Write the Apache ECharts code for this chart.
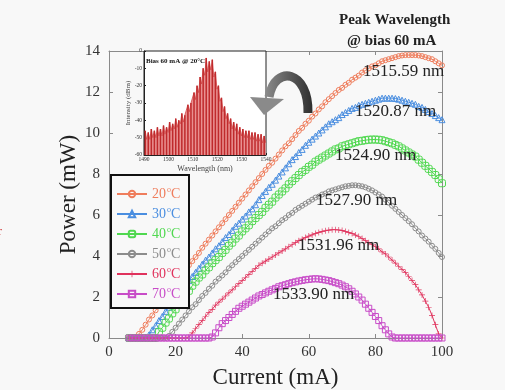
<!DOCTYPE html>
<html>
<head>
<meta charset="utf-8">
<script src="https://cdn.jsdelivr.net/npm/echarts@6/dist/echarts.min.js"></script>
<style>
  html, body { margin: 0; padding: 0; background: #f8f8f8; }
  #main { width: 505px; height: 390px; }
</style>
</head>
<body>
<div id="main"></div>
<script>
// current (mA)
const current = [6,7,8,9,10,11,12,13,14,15,16,17,18,19,20,21,22,23,24,25,26,27,28,29,30,
  31,32,33,34,35,36,37,38,39,40,41,42,43,44,45,46,47,48,49,50,51,52,53,54,55,56,57,58,59,60,
  61,62,63,64,65,66,67,68,69,70,71,72,73,74,75,76,77,78,79,80,81,82,83,84,85,86,87,88,89,90,
  91,92,93,94,95,96,97,98,99,100];

// output power (mW) per temperature
const p20 = [0,0,0.05,0.2,0.4,0.65,0.9,1.1,1.35,1.55,1.8,2.0,2.25,2.45,2.7,2.9,3.1,3.3,3.55,3.75,
  3.95,4.15,4.4,4.6,4.8,5.0,5.2,5.4,5.6,5.8,6.0,6.2,6.4,6.6,6.8,7.0,7.2,7.4,7.6,7.8,
  8.0,8.2,8.4,8.55,8.75,8.95,9.15,9.35,9.5,9.7,9.9,10.1,10.25,10.45,10.6,10.8,10.95,11.15,11.3,11.5,
  11.65,11.8,11.95,12.1,12.2,12.35,12.45,12.6,12.7,12.8,12.95,13.05,13.15,13.25,13.3,13.4,13.5,13.55,13.6,13.65,
  13.7,13.75,13.78,13.8,13.8,13.8,13.8,13.78,13.75,13.7,13.65,13.6,13.5,13.4,13.3];
const p30 = [0,0,0,0,0,0,0.15,0.4,0.6,0.85,1.05,1.3,1.5,1.75,1.95,2.2,2.4,2.6,2.8,3.0,
  3.2,3.4,3.6,3.8,3.95,4.15,4.35,4.5,4.7,4.9,5.05,5.25,5.45,5.6,5.8,5.95,6.15,6.3,6.5,6.75,
  6.95,7.15,7.35,7.5,7.7,7.9,8.1,8.3,8.5,8.7,8.85,9.05,9.2,9.4,9.55,9.7,9.85,10.0,10.15,10.3,
  10.45,10.55,10.65,10.75,10.9,11.0,11.1,11.2,11.25,11.35,11.4,11.45,11.5,11.55,11.6,11.65,11.7,11.7,11.7,11.7,
  11.68,11.65,11.6,11.55,11.5,11.45,11.4,11.3,11.25,11.15,11.05,10.95,10.85,10.75,10.65];
const p40 = [0,0,0,0,0,0,0,0,0,0.3,0.5,0.75,0.95,1.2,1.4,1.65,1.85,2.1,2.3,2.55,
  2.75,2.95,3.1,3.3,3.45,3.65,3.8,3.95,4.15,4.3,4.5,4.65,4.85,5.0,5.2,5.35,5.5,5.7,5.85,6.0,
  6.15,6.35,6.5,6.65,6.85,7.0,7.15,7.3,7.5,7.65,7.8,7.95,8.1,8.2,8.35,8.45,8.6,8.7,8.8,8.9,
  9.0,9.1,9.2,9.25,9.35,9.4,9.45,9.5,9.55,9.6,9.62,9.65,9.67,9.68,9.68,9.67,9.65,9.6,9.55,9.5,
  9.42,9.35,9.25,9.15,9.05,8.95,8.85,8.7,8.55,8.4,8.25,8.1,7.95,7.75,7.55];
const p50 = [0,0,0,0,0,0,0,0,0,0,0,0,0.1,0.3,0.5,0.7,0.9,1.1,1.3,1.5,
  1.65,1.85,2.05,2.2,2.4,2.55,2.75,2.9,3.05,3.2,3.4,3.55,3.7,3.85,4.0,4.15,4.3,4.45,4.6,4.75,
  4.9,5.05,5.2,5.35,5.45,5.6,5.75,5.85,6.0,6.1,6.25,6.35,6.45,6.55,6.65,6.75,6.85,6.9,7.0,7.05,
  7.15,7.2,7.25,7.3,7.35,7.4,7.42,7.45,7.45,7.43,7.4,7.35,7.28,7.2,7.1,7.0,6.9,6.75,6.6,6.45,
  6.3,6.15,6.0,5.85,5.7,5.55,5.35,5.2,5.0,4.85,4.7,4.5,4.35,4.15,3.95];
const p60 = [0,0,0,0,0,0,0,0,0,0,0,0,0,0,0,0,0,0,0.05,0.25,
  0.45,0.65,0.85,1.05,1.25,1.4,1.6,1.75,1.9,2.05,2.2,2.35,2.5,2.65,2.8,2.95,3.1,3.25,3.4,3.55,
  3.65,3.75,3.85,3.95,4.05,4.15,4.25,4.35,4.45,4.55,4.65,4.75,4.82,4.9,4.97,5.03,5.1,5.15,5.2,5.23,
  5.26,5.28,5.28,5.27,5.25,5.2,5.15,5.1,5.02,4.95,4.85,4.75,4.65,4.55,4.45,4.35,4.2,4.1,3.95,3.8,
  3.65,3.5,3.35,3.2,3.0,2.8,2.6,2.35,2.1,1.8,1.5,1.1,0.65,0.2,0];
const p70 = [0,0,0,0,0,0,0,0,0,0,0,0,0,0,0,0,0,0,0,0,
  0,0,0,0,0,0.05,0.25,0.5,0.7,0.85,1.0,1.15,1.3,1.45,1.55,1.65,1.75,1.85,1.95,2.05,
  2.12,2.2,2.28,2.35,2.42,2.5,2.55,2.6,2.65,2.7,2.74,2.78,2.81,2.84,2.86,2.88,2.89,2.88,2.86,2.83,
  2.8,2.75,2.7,2.65,2.58,2.5,2.4,2.28,2.15,2.0,1.85,1.65,1.45,1.25,1.05,0.85,0.6,0.4,0.2,0.05,
  0,0,0,0,0,0,0,0,0,0,0,0,0,0,0];

const tempNames = ['20°C', '30°C', '40°C', '50°C', '60°C', '70°C'];
const tempColors = ['#ef7d5c', '#4a8ee0', '#4fd84f', '#8c8c8c', '#e0325c', '#c84cc8'];
const peakLabels = ['1515.59 nm', '1520.87 nm', '1524.90 nm', '1527.90 nm', '1531.96 nm', '1533.90 nm'];

// inset spectrum (bias 60 mA, 20 °C): alternating mode peak / valley
const specWl = [1490.5,1491.1,1491.75,1492.4,1493.0,1493.6,1494.25,1494.9,1495.5,1496.1,
  1496.75,1497.4,1498.0,1498.6,1499.25,1499.9,1500.5,1501.1,1501.75,1502.4,
  1503.0,1503.6,1504.25,1504.9,1505.5,1506.1,1506.75,1507.4,1508.0,1508.6,
  1509.25,1509.9,1510.5,1511.1,1511.75,1512.4,1513.0,1513.6,1514.25,1514.9,
  1515.5,1516.1,1516.75,1517.4,1518.0,1518.6,1519.25,1519.9,1520.5,1521.1,
  1521.75,1522.4,1523.0,1523.6,1524.25,1524.9,1525.5,1526.1,1526.75,1527.4,
  1528.0,1528.6,1529.25,1529.9,1530.5,1531.1,1531.75,1532.4,1533.0,1533.6,
  1534.25,1534.9,1535.5,1536.1,1536.75,1537.4,1538.0,1538.6,1539.25,1539.9];
const specDb = [-46,-51,-47,-51,-45,-50,-46,-50,-44,-49,
  -45,-49,-43,-48,-44,-47,-41,-46,-42,-45,
  -39,-44,-40,-42,-36,-41,-37,-38,-31,-35,
  -30,-31,-24,-28,-20,-24,-15,-19,-10,-14,
  -4,-12,-6,-11,-5,-15,-12,-22,-20,-29,
  -27,-35,-32,-39,-36,-42,-39,-45,-41,-46,
  -42,-48,-44,-49,-45,-50,-46,-50,-46,-51,
  -47,-51,-47,-52,-48,-52,-48,-53,-49,-53];

const chart = echarts.init(document.getElementById('main'));
const serif = '"Liberation Serif", "DejaVu Serif", serif';

const markers = [
  { symbol: 'circle', size: 5, hollow: true },
  { symbol: 'triangle', size: 6, hollow: true },
  { symbol: 'roundRect', size: 7, hollow: true },
  { symbol: 'circle', size: 5, hollow: true },
  { symbol: 'path://M4,0H5V9H4ZM0,4H9V5H0Z', size: 6, hollow: false },
  { symbol: 'rect', size: 6, hollow: true }
];
const powers = [p20, p30, p40, p50, p60, p70];

const mainSeries = powers.map((p, i) => ({
  name: tempNames[i],
  type: 'line',
  xAxisIndex: 0,
  yAxisIndex: 0,
  data: current.map((c, j) => [c, p[j]]),
  symbol: markers[i].symbol,
  symbolSize: markers[i].size,
  showAllSymbol: true,
  itemStyle: markers[i].hollow
    ? { color: 'rgba(255,255,255,0)', borderColor: tempColors[i], borderWidth: 1 }
    : { color: tempColors[i] },
  lineStyle: { color: tempColors[i], width: 1 },
  z: 3 + i
}));

const insetTrace = specWl.map((w, i) => [w, specDb[i] + 60]);
const insetPeaks = specWl.filter((w, i) => i % 2 === 0).map((w, k) => [w, specDb[2 * k] + 60]);

const axisFont = { fontFamily: serif, fontSize: 15, color: '#333' };

chart.setOption({
  backgroundColor: '#f8f8f8',
  animation: false,
  grid: [
    { left: 109, top: 51, width: 333, height: 287, outerBoundsMode: 'none' },
    { left: 144, top: 51, width: 122, height: 104, show: true, backgroundColor: '#ffffff',
      borderColor: '#222', borderWidth: 1, z: 10, outerBoundsMode: 'none' }
  ],
  xAxis: [
    { type: 'value', gridIndex: 0, min: 0, max: 100, interval: 20,
      name: 'Current (mA)', nameLocation: 'middle', nameGap: 28, nameMoveOverlap: false,
      nameTextStyle: { fontFamily: serif, fontSize: 23, color: '#222' },
      axisLine: { show: true, onZero: false, lineStyle: { color: '#8a8a8a' } },
      axisTick: { show: true, inside: true, length: 4, lineStyle: { color: '#8a8a8a' } },
      axisLabel: Object.assign({ margin: 7 }, axisFont),
      splitLine: { show: false } },
    { type: 'value', gridIndex: 0, position: 'top', min: 0, max: 100, interval: 20,
      axisLine: { show: true, onZero: false, lineStyle: { color: '#8a8a8a' } },
      axisTick: { show: true, inside: true, length: 4, lineStyle: { color: '#8a8a8a' } },
      axisLabel: { show: false }, splitLine: { show: false } },
    { type: 'value', gridIndex: 1, min: 1490, max: 1540, interval: 10,
      name: 'Wavelength (nm)', nameLocation: 'middle', nameGap: 10, nameMoveOverlap: false,
      nameTextStyle: { fontFamily: serif, fontSize: 8, color: '#444' },
      axisLine: { show: true, onZero: false, lineStyle: { color: '#222' } },
      axisTick: { show: true, inside: true, length: 2, lineStyle: { color: '#222' } },
      axisLabel: { fontFamily: serif, fontSize: 5.5, color: '#333', margin: 2,
        formatter: v => String(v) },
      splitLine: { show: false }, z: 11 }
  ],
  yAxis: [
    { type: 'value', gridIndex: 0, min: 0, max: 14, interval: 2,
      name: 'Power (mW)', nameLocation: 'middle', nameGap: 29, nameMoveOverlap: false,
      nameTextStyle: { fontFamily: serif, fontSize: 23, color: '#222' },
      axisLine: { show: true, onZero: false, lineStyle: { color: '#8a8a8a' } },
      axisTick: { show: true, inside: true, length: 4, lineStyle: { color: '#8a8a8a' } },
      axisLabel: Object.assign({ margin: 9 }, axisFont),
      splitLine: { show: false } },
    { type: 'value', gridIndex: 0, position: 'right', min: 0, max: 14, interval: 2,
      axisLine: { show: true, onZero: false, lineStyle: { color: '#8a8a8a' } },
      axisTick: { show: true, inside: true, length: 4, lineStyle: { color: '#8a8a8a' } },
      axisLabel: { show: false }, splitLine: { show: false } },
    { type: 'value', gridIndex: 1, min: 0, max: 60, interval: 10,
      name: 'Intensity (dBm)', nameLocation: 'middle', nameGap: 12, nameMoveOverlap: false,
      nameTextStyle: { fontFamily: serif, fontSize: 7, color: '#444' },
      axisLine: { show: true, onZero: false, lineStyle: { color: '#222' } },
      axisTick: { show: true, inside: true, length: 2, lineStyle: { color: '#222' } },
      axisLabel: { fontFamily: serif, fontSize: 5.5, color: '#333', margin: 2,
        formatter: v => String(v - 60) },
      splitLine: { show: false }, z: 11 }
  ],
  legend: {
    orient: 'vertical',
    left: 116,
    top: 186,
    itemWidth: 30,
    itemHeight: 8,
    itemGap: 4,
    padding: 0,
    z: 25,
    data: tempNames.map((n, i) => ({ name: n, textStyle: { color: tempColors[i] } })),
    formatter: n => '{v|' + n.slice(0, 2) + '}{s|o}{v|C}',
    textStyle: {
      fontFamily: serif, fontSize: 14, lineHeight: 16,
      rich: {
        v: { fontFamily: serif, fontSize: 14 },
        s: { fontFamily: serif, fontSize: 8, verticalAlign: 'top', padding: [0, 0, 8, 1] }
      }
    }
  },
  series: mainSeries.concat([
    { type: 'line', xAxisIndex: 2, yAxisIndex: 2, data: insetTrace, symbol: 'none',
      lineStyle: { color: '#d24646', width: 0.8 },
      areaStyle: { color: '#e99090', opacity: 1 }, z: 12 },
    { type: 'bar', xAxisIndex: 2, yAxisIndex: 2, data: insetPeaks, barWidth: 1.5,
      itemStyle: { color: '#bf2a2c' }, z: 13 }
  ]),
  graphic: [
    { type: 'rect', left: 110, top: 174, z: 20, shape: { width: 78, height: 133 },
      style: { fill: '#f8f8f8', stroke: '#111', lineWidth: 2 } },
    { type: 'text', left: 339, top: 13, z: 20,
      style: { text: 'Peak Wavelength', fontFamily: serif, fontSize: 15, fontWeight: 'bold', fill: '#222' } },
    { type: 'text', left: 347, top: 34, z: 20,
      style: { text: '@ bias 60 mA', fontFamily: serif, fontSize: 15, fontWeight: 'bold', fill: '#222' } },
    { type: 'text', left: 146, top: 58, z: 30,
      style: { text: 'Bias 60 mA @ 20°C', fontFamily: serif, fontSize: 7, fontWeight: 'bold', fill: '#111' } },
    { type: 'text', left: -2, top: 226, z: 20,
      style: { text: 'r', fontFamily: serif, fontSize: 12, fill: '#d03030' } },
    { type: 'bezierCurve', z: 20,
      shape: { x1: 308, y1: 113, cpx1: 309, cpy1: 70, cpx2: 275, cpy2: 64, x2: 269, y2: 97 },
      style: { fill: 'none', lineWidth: 9,
        stroke: new echarts.graphic.LinearGradient(0, 0, 1, 0, [
          { offset: 0, color: '#8c8c8c' }, { offset: 1, color: '#2e2e2e' }]) } },
    { type: 'polygon', z: 20,
      shape: { points: [[250, 97], [284, 99], [264, 115]] },
      style: { fill: '#8a8a8a' } }
  ].concat(peakLabels.map((t, i) => ({
    type: 'text', z: 20,
    left: [363, 355, 335, 316, 298, 273][i],
    top: [63, 103, 147, 192, 237, 286][i],
    style: { text: t, fontFamily: serif, fontSize: 17, fill: '#222' }
  })))
});
</script>
</body>
</html>
